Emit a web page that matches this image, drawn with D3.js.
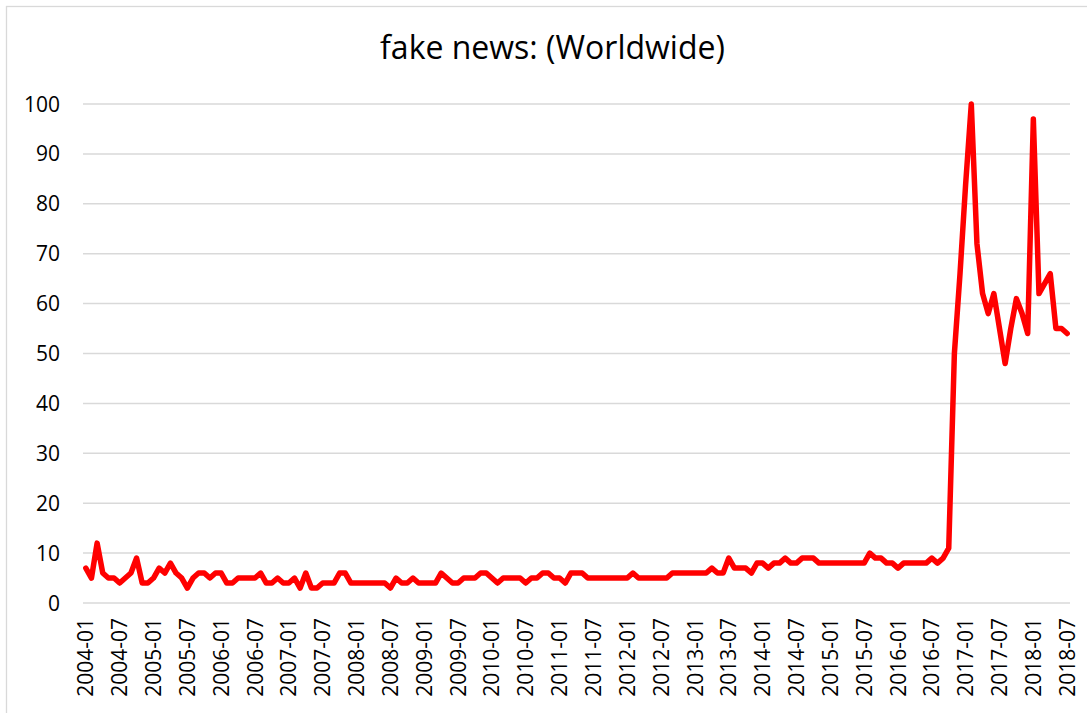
<!DOCTYPE html>
<html>
<head>
<meta charset="utf-8">
<script src="https://cdn.jsdelivr.net/npm/d3@7"></script>
<style>
    body { margin: 0; background: #fff; }
    text { font-family: "Open Sans", sans-serif; fill: #000; }
</style>
</head>
<body>
<div id="app"></div>
<script>
var title = "fake news: (Worldwide)";

// monthly interest, 2004-01 .. 2018-07
var values = [
    7, 5, 12, 6, 5, 5, 4, 5, 6, 9, 4, 4,
    5, 7, 6, 8, 6, 5, 3, 5, 6, 6, 5, 6,
    6, 4, 4, 5, 5, 5, 5, 6, 4, 4, 5, 4,
    4, 5, 3, 6, 3, 3, 4, 4, 4, 6, 6, 4,
    4, 4, 4, 4, 4, 4, 3, 5, 4, 4, 5, 4,
    4, 4, 4, 6, 5, 4, 4, 5, 5, 5, 6, 6,
    5, 4, 5, 5, 5, 5, 4, 5, 5, 6, 6, 5,
    5, 4, 6, 6, 6, 5, 5, 5, 5, 5, 5, 5,
    5, 6, 5, 5, 5, 5, 5, 5, 6, 6, 6, 6,
    6, 6, 6, 7, 6, 6, 9, 7, 7, 7, 6, 8,
    8, 7, 8, 8, 9, 8, 8, 9, 9, 9, 8, 8,
    8, 8, 8, 8, 8, 8, 8, 10, 9, 9, 8, 8,
    7, 8, 8, 8, 8, 8, 9, 8, 9, 11, 50, 66,
    84, 100, 72, 62, 58, 62, 55, 48, 55, 61, 58, 54,
    97, 62, 64, 66, 55, 55, 54
];

var yTicks = [0, 10, 20, 30, 40, 50, 60, 70, 80, 90, 100];

var tickLabels = [
    "2004-01", "2004-07", "2005-01", "2005-07", "2006-01", "2006-07",
    "2007-01", "2007-07", "2008-01", "2008-07", "2009-01", "2009-07",
    "2010-01", "2010-07", "2011-01", "2011-07", "2012-01", "2012-07",
    "2013-01", "2013-07", "2014-01", "2014-07", "2015-01", "2015-07",
    "2016-01", "2016-07", "2017-01", "2017-07", "2018-01", "2018-07"
];

var categories = [];
for (var y = 2004; y <= 2018; y++) {
    for (var m = 1; m <= 12; m++) {
        if (categories.length < values.length) {
            categories.push(y + "-" + (m < 10 ? "0" + m : m));
        }
    }
}

var W = 1087;
var H = 713;

var plotL = 83;
var plotR = 1070;
var plotT = 104;
var plotB = 603;

var svg = d3.select("#app")
    .append("svg")
    .attr("width", W)
    .attr("height", H);

//CHART AREA BORDER
svg.append("rect")
    .attr("x", 6.5)
    .attr("y", 6.5)
    .attr("width", W + 20)
    .attr("height", H + 20)
    .style("fill", "#fff")
    .style("stroke", "#d9d9d9")
    .style("stroke-width", 1.3);

var x = d3.scaleBand()
    .domain(categories)
    .range([plotL, plotR]);

var yScale = d3.scaleLinear()
    .domain([0, 100])
    .range([plotB, plotT]);

//GRIDLINES
svg.selectAll(".grid")
    .data(yTicks)
    .enter()
    .append("line")
    .attr("class", "grid")
    .attr("x1", plotL)
    .attr("x2", plotR)
    .attr("y1", function (d) { return yScale(d); })
    .attr("y2", function (d) { return yScale(d); })
    .style("stroke", "#d9d9d9")
    .style("stroke-width", 1.5);

//Y LABELS
svg.selectAll(".ylab")
    .data(yTicks)
    .enter()
    .append("text")
    .attr("class", "ylab")
    .attr("x", 60)
    .attr("y", function (d) { return yScale(d); })
    .attr("dy", "0.36em")
    .attr("text-anchor", "end")
    .style("font-size", "21px")
    .text(function (d) { return d; });

//X LABELS
svg.selectAll(".xlab")
    .data(tickLabels)
    .enter()
    .append("text")
    .attr("class", "xlab")
    .attr("transform", function (d) {
        return "translate(" + (x(d) + x.bandwidth() / 2) + "," + 618 + ") rotate(-90)";
    })
    .attr("dy", "0.36em")
    .attr("text-anchor", "end")
    .style("font-size", "21px")
    .text(function (d) { return d; });

//LINE
var line = d3.line()
    .x(function (d, i) { return x(categories[i]) + x.bandwidth() / 2; })
    .y(function (d) { return yScale(d); });

svg.append("path")
    .datum(values)
    .attr("d", line)
    .style("fill", "none")
    .style("stroke", "#ff0000")
    .style("stroke-width", 5.5)
    .style("stroke-linejoin", "round")
    .style("stroke-linecap", "round");

//TITLE
svg.append("text")
    .attr("x", 552.5)
    .attr("y", 59)
    .attr("text-anchor", "middle")
    .style("font-size", "32px")
    .text(title);
</script>
</body>
</html>
